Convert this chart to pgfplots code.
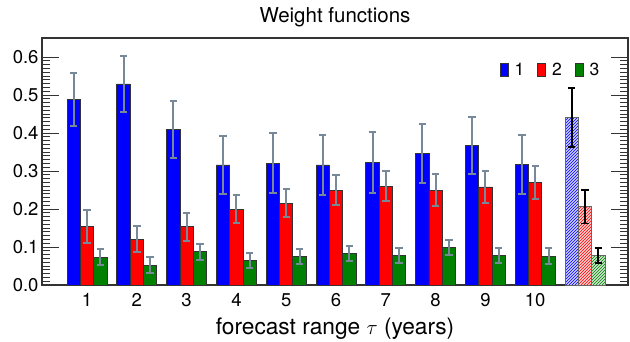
\documentclass[border=0pt]{standalone}
\usepackage{fontspec}
\setmainfont{TeX Gyre Heros}
\usepackage{pgfplots}
\usepackage{pgfplotstable}
\pgfplotsset{compat=1.18}
\usetikzlibrary{patterns}
\definecolor{errgray}{HTML}{778899}
\definecolor{dgreen}{RGB}{0,128,0}
\definecolor{axgray}{HTML}{333333}

\pgfplotstableread{
x  b     be    r     re    g     ge
1  0.489 0.070 0.154 0.043 0.073 0.021
2  0.529 0.073 0.121 0.034 0.052 0.021
3  0.409 0.074 0.153 0.037 0.088 0.021
4  0.316 0.077 0.200 0.037 0.064 0.019
5  0.321 0.078 0.215 0.037 0.076 0.020
6  0.316 0.080 0.250 0.040 0.082 0.020
7  0.323 0.080 0.260 0.040 0.077 0.020
8  0.347 0.078 0.250 0.041 0.098 0.020
9  0.368 0.075 0.258 0.042 0.078 0.020
10 0.317 0.078 0.270 0.043 0.076 0.021
}\data

\pgfplotstableread{
x  b     be    r     re    g     ge
11 0.441 0.078 0.206 0.044 0.078 0.020
}\mean

\pgfplotsset{
  gerr/.style={/pgfplots/error bars/.cd, y dir=both, y explicit,
    error bar style={errgray, line width=2pt},
    error mark options={rotate=90, mark size=3.7pt, errgray, line width=2pt}, /pgfplots/.cd},
  kerr/.style={/pgfplots/error bars/.cd, y dir=both, y explicit,
    error bar style={black, line width=1.7pt},
    error mark options={rotate=90, mark size=3.7pt, black, line width=1.7pt}, /pgfplots/.cd},
  limg/.style={legend image code/.code={\draw[fill=#1, draw=black!80, line width=0.8pt] (0pt,-6.5pt) rectangle (8pt,6.5pt);}},
}

\begin{document}
\begin{tikzpicture}
\path[use as bounding box] (-42pt,-56pt) rectangle (588pt,285pt);
\begin{axis}[
  at={(0pt,0pt)}, anchor=south west,
  scale only axis, width=586pt, height=247pt,
  xmin=0.0964, xmax=11.863, ymin=0, ymax=0.65,
  xtick={1,2,3,4,5,6,7,8,9,10},
  xtick style={draw=none},
  ytick={0,0.1,0.2,0.3,0.4,0.5,0.6},
  minor y tick num=9,
  tick align=inside,
  major tick length=17pt, minor tick length=8.5pt,
  ytick style={axgray, line width=1pt},
  minor y tick style={axgray, line width=0.9pt},
  axis line style={axgray, line width=1.3pt},
  /pgf/number format/assume math mode=true,
  yticklabel style={/pgf/number format/.cd, fixed, fixed zerofill, precision=1},
  ticklabel style={font=\fontsize{18.5}{22}\selectfont},
  xticklabel style={anchor=base, yshift=-21pt},
  title={Weight functions},
  title style={at={(0.5,1)}, anchor=base, yshift=10pt, font=\fontsize{20.5}{24}\selectfont},
  xlabel={forecast range $\tau$ (years)},
  xlabel style={at={(axis description cs:0.5,0)}, anchor=base, yshift=-49pt, font=\fontsize{22.7}{26}\selectfont},
  legend style={draw=none, fill=none, at={(0.955,0.907)}, anchor=north east,
    legend columns=-1, font=\fontsize{17.5}{20}\selectfont, inner sep=0pt,
    /tikz/every odd column/.append style={column sep=4pt},
    /tikz/every even column/.append style={column sep=11pt}},
  legend cell align=left,
]
\addplot[ybar, bar width=13.3pt, bar shift=0pt, fill=blue, draw=black!80, line width=0.8pt, limg=blue, gerr]
  table[x expr=\thisrow{x}-0.267, y=b, y error=be] {\data};
\addplot[ybar, bar width=13.3pt, bar shift=0pt, fill=red, draw=black!80, line width=0.8pt, limg=red, gerr]
  table[x=x, y=r, y error=re] {\data};
\addplot[ybar, bar width=13.3pt, bar shift=0pt, fill=dgreen, draw=black!80, line width=0.8pt, limg=dgreen, gerr]
  table[x expr=\thisrow{x}+0.267, y=g, y error=ge] {\data};
\legend{1,2,3}
\addplot[ybar, forget plot, bar width=13.3pt, bar shift=0pt, fill=blue!20, draw=black!60, line width=0.8pt,
  postaction={pattern=north east lines, pattern color=blue}, kerr]
  table[x expr=\thisrow{x}-0.267, y=b, y error=be] {\mean};
\addplot[ybar, forget plot, bar width=13.3pt, bar shift=0pt, fill=red!20, draw=black!60, line width=0.8pt,
  postaction={pattern=north east lines, pattern color=red}, kerr]
  table[x=x, y=r, y error=re] {\mean};
\addplot[ybar, forget plot, bar width=13.3pt, bar shift=0pt, fill=dgreen!20, draw=black!60, line width=0.8pt,
  postaction={pattern=north east lines, pattern color=dgreen}, kerr]
  table[x expr=\thisrow{x}+0.267, y=g, y error=ge] {\mean};
\end{axis}
\end{tikzpicture}
\end{document}
